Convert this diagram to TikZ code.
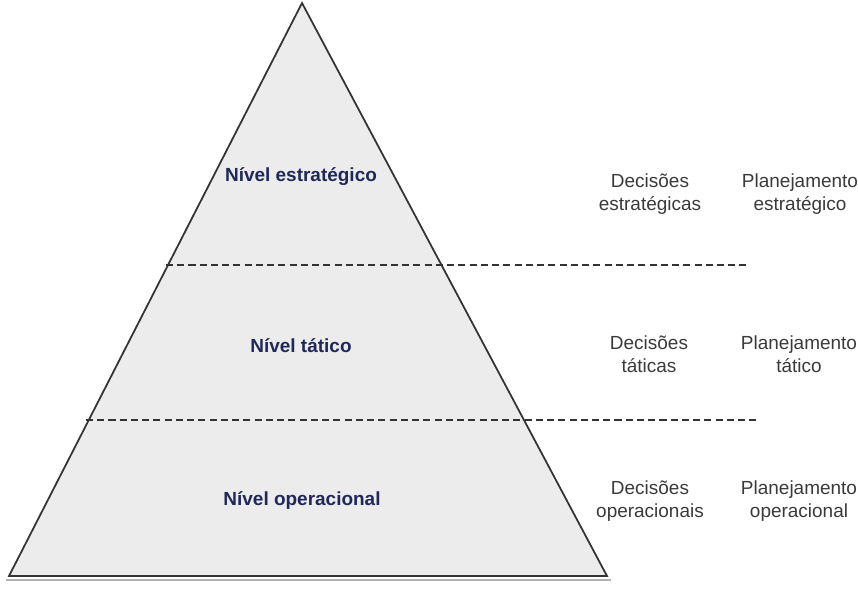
\documentclass[tikz,border=0pt]{standalone}
\usepackage{fontspec}
\setmainfont{Liberation Sans}
\usepackage{tikz}

\definecolor{levelblue}{HTML}{1F2858}
\definecolor{textgray}{HTML}{3A3A3A}
\definecolor{pyrfill}{HTML}{ECECEC}
\definecolor{edgegray}{HTML}{333333}

\begin{document}
\begin{tikzpicture}[
    x=0.02cm, y=-0.02cm,
    level/.style={font=\fontsize{10.8}{12}\selectfont\bfseries, text=levelblue},
    side/.style={align=center, font=\fontsize{10.8}{13}\selectfont, text=textgray},
    divider/.style={edgegray, line width=0.8pt, dash pattern=on 4pt off 2.4pt}
]
\useasboundingbox (0,0) rectangle (858,589);

% pyramid
\coordinate (top) at (302,3);
\coordinate (bl) at (9,576);
\coordinate (br) at (607,576);
\draw[gray!60, line width=1.6pt] (6,580) -- (611,580);
\draw[edgegray, line width=1pt, fill=pyrfill, line join=miter] (top) -- (bl) -- (br) -- cycle;

% dividers
\coordinate (d1l) at (166,265);
\coordinate (d1r) at (746,265);
\coordinate (d2l) at (86,420);
\coordinate (d2r) at (760,420);
\draw[divider] (d1l) -- (d1r);
\draw[divider] (d2l) -- (d2r);

% levels
\node[level] (est) at (301,177) {Nível estratégico};
\node[level] (tat) at (301,346) {Nível tático};
\node[level] (ope) at (302,500) {Nível operacional};

% decisions
\node[side] (dest) at (650,194) {Decisões\\estratégicas};
\node[side] (dtat) at (649,354) {Decisões\\táticas};
\node[side] (dope) at (650,501) {Decisões\\operacionais};

% planning
\node[side] (pest) at (800,194) {Planejamento\\estratégico};
\node[side] (ptat) at (799,354) {Planejamento\\tático};
\node[side] (pope) at (799,501) {Planejamento\\operacional};
\end{tikzpicture}
\end{document}
